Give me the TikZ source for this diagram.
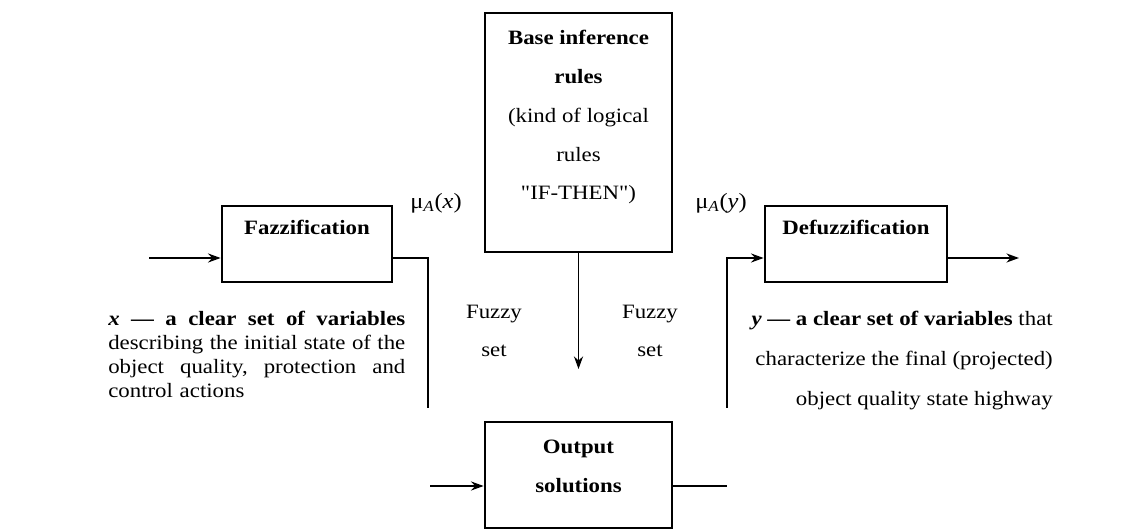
\documentclass[tikz,border=0pt]{standalone}
\usepackage{fontspec}
\setmainfont{Liberation Serif}[FakeStretch=1.12, Ligatures=TeXOff]
\usetikzlibrary{arrows.meta,positioning,calc}

\tikzset{
  blockbox/.style={draw=black, line width=2pt, inner sep=1mm, align=center,
    font=\fontsize{14.5}{27.7}\selectfont\bfseries},
  flowline/.style={line width=1pt, draw=black},
  flowarrow/.style={flowline, -{Stealth[length=9pt,width=6.5pt,inset=3pt]}},
  plaintext/.style={font=\fontsize{14.5}{27}\selectfont, align=center, inner sep=0pt},
}
% one justified line of the left description
\newcommand{\fullline}[1]{\makebox[7.425cm][l]{#1}}

\begin{document}
\begin{tikzpicture}
  \useasboundingbox (0,0) rectangle (28.575,13.275);

  % Blocks
  \node[blockbox, minimum width=4.675cm, text height=4.575cm, text depth=1.2cm] (rules) at (14.4625,9.9625)
    {Base inference\\rules\\{\mdseries (kind of logical}\\{\mdseries rules}\\{\mdseries "IF-THEN")}};
  \node[blockbox, minimum width=4.25cm, text height=0.625cm, text depth=1.075cm] (fazz) at (7.675,7.175) {Fazzification};
  \node[blockbox, minimum width=4.55cm, text height=0.625cm, text depth=1.075cm] (defuzz) at (21.4,7.175) {Defuzzification};
  \node[blockbox, minimum width=4.675cm, text height=1.65cm, text depth=0.8cm] (outsol) at (14.4625,1.4)
    {Output\\solutions};

  % Free ends of the connectors
  \coordinate (xin) at (3.725,6.825);
  \coordinate (yout) at (25.475,6.825);
  \coordinate (fzdown) at (10.7,3.075);
  \coordinate (dfup) at (18.175,3.075);
  \coordinate (fsend) at (14.4625,4.05);
  \coordinate (outin) at (10.75,1.125);
  \coordinate (outend) at (18.175,1.125);

  % Connectors
  \draw[flowarrow] (xin) -- (xin -| fazz.west);
  \draw[flowline] (xin -| fazz.east) -- (xin -| fzdown) -- (fzdown);
  \draw[flowarrow] (dfup) |- (xin -| defuzz.west);
  \draw[flowarrow] (xin -| defuzz.east) -- (yout);
  \draw[flowarrow] (rules.south) -- (fsend);
  \draw[flowarrow] (outin) -- (outin -| outsol.west);
  \draw[flowline] (outin -| outsol.east) -- (outend);

  % Labels
  \node[plaintext, font=\fontsize{15.5}{27}\selectfont] (mux) at (10.9,8.2) {μ\textsubscript{\textit{A}}(\textit{x})};
  \node[plaintext, font=\fontsize{15.5}{27}\selectfont] (muy) at (18.025,8.2) {μ\textsubscript{\textit{A}}(\textit{y})};
  \node[plaintext] (fsleft) at (12.35,5.0) {Fuzzy\\set};
  \node[plaintext] (fsright) at (16.25,5.0) {Fuzzy\\set};

  % Descriptions
  \node[plaintext, font=\fontsize{14.5}{17}\selectfont, anchor=north west, text width=7.425cm, align=left] (xdesc) at (2.7,5.5)
    {\fullline{\textbf{\textit{x}\hfill—\hfill a\hfill clear\hfill set\hfill of\hfill variables}}\\
     \fullline{describing\hfill the\hfill initial\hfill state\hfill of\hfill the}\\
     \fullline{object\hfill quality,\hfill protection\hfill and}\\
     control actions};
  \node[plaintext, font=\fontsize{14.5}{28.3}\selectfont, anchor=north east, align=right] (ydesc) at (26.325,5.5)
    {\textbf{\textit{y} — a clear set of variables} that\\
     characterize the final (projected)\\
     object quality state highway};
\end{tikzpicture}
\end{document}
